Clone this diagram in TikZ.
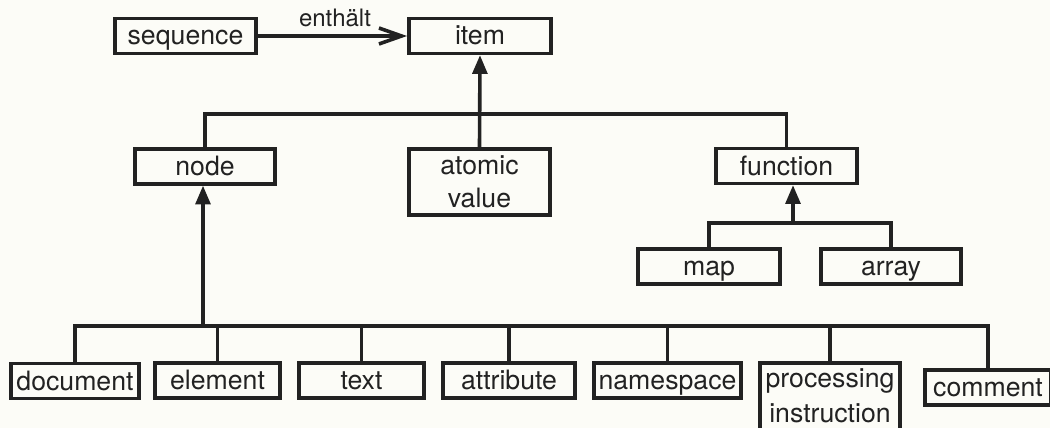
\documentclass[tikz,border=0pt]{standalone}
\usepackage{fontspec}
\setmainfont{TeX Gyre Heros}
\usetikzlibrary{arrows.meta}
\definecolor{ink}{RGB}{34,34,34}
\definecolor{paper}{RGB}{252,252,247}
\begin{document}
\begin{tikzpicture}[x=0.75pt,y=-0.75pt,
  box/.style={draw=ink, line width=2.7pt, fill=paper, text=ink, inner sep=0pt,
    font=\fontsize{20}{25}\selectfont, align=center, minimum height=26pt},
  one/.style={text height=17pt, text depth=3.5pt},
  wide/.style={minimum width=#1},
  wire/.style={draw=ink, line width=2.7pt},
  isa/.style={wire, -{Triangle[length=14pt,width=11pt]}},
  has/.style={wire, -{Straight Barb[length=17pt,width=12pt]}}]

% canvas
\fill[paper] (0,0) rectangle (1050,428);
\useasboundingbox (0,0) rectangle (1050,428);
\clip (0,0) rectangle (1050,428);

% top level
\node[box, one, wide=106pt]    (seq)  at (185.5,36) {sequence};
\node[box, one, wide=106.75pt] (item) at (480,36)   {item};
\node[text=ink, font=\fontsize{18}{20}\selectfont, anchor=base] (contains) at (335,27) {enthält};
\draw[has] (seq.east) -- (item.west);

% kinds of item
\node[box, one, wide=105.25pt] (nd) at (205,166.5) {node};
\node[box, wide=106pt, minimum height=49.75pt] (atom) at (479.5,182) {atomic\\value};
\node[box, one, wide=106pt] (fn) at (786.5,166) {function};

\coordinate (topbar) at (480,114);
\draw[wire] (nd.north) |- (topbar) -| (fn.north);
\draw[isa] (atom.north) -- (item.south);

% kinds of function
\node[box, one, wide=106.75pt] (map) at (709,266.5) {map};
\node[box, one, wide=105.25pt] (arr) at (891,266.5) {array};
\coordinate (fnbar) at (793,223);
\draw[wire] (map.north) |- (fnbar) -| (arr.north);
\draw[isa] (fnbar) -- (fnbar |- fn.south);

% kinds of node
\node[box, one, wide=96.25pt]  (doc)  at (75,381)      {document};
\node[box, one, wide=94pt]     (elem) at (217.5,380.5) {element};
\node[box, one, wide=94pt]     (txt)  at (361.5,380.5) {text};
\node[box, one, wide=99.25pt]  (attr) at (509,380.5)   {attribute};
\node[box, one, wide=110.5pt]  (ns)   at (667.5,380.5) {namespace};
\node[box, wide=105.25pt, anchor=north, font=\fontsize{20}{26}\selectfont,
      text height=44.6pt, text depth=21pt] (pi) at (830,361) {processing\\instruction};
\node[box, one, wide=94.75pt]  (com)  at (988,387.5)   {comment};

\coordinate (ndbar) at (203,326);
\draw[wire] (doc.north) |- (ndbar) -| (com.north);
\foreach \k in {elem,txt,attr,ns,pi}
  \draw[wire] (\k.north) -- (\k.north |- ndbar);
\draw[isa] (ndbar) -- (ndbar |- nd.south);
\end{tikzpicture}
\end{document}
